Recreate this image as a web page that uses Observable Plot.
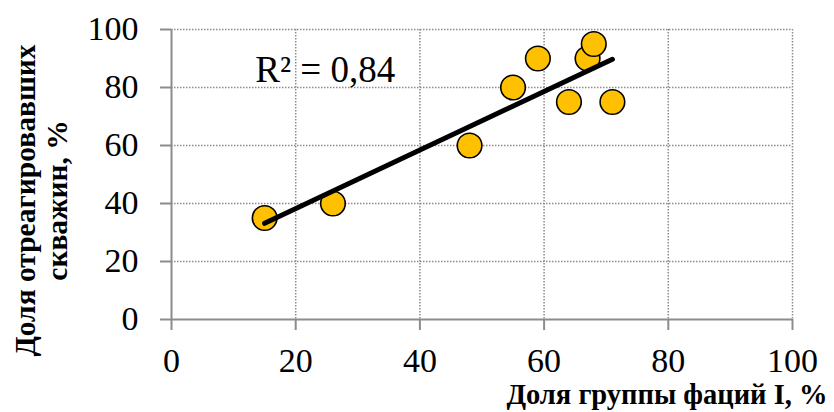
<!DOCTYPE html>
<html><head><meta charset="utf-8">
<script src="https://cdn.jsdelivr.net/npm/d3@7"></script>
<script src="https://cdn.jsdelivr.net/npm/@observablehq/plot@0.6"></script>
<style>
html,body{margin:0;padding:0;background:#fff;}
svg text{font-family:"Liberation Serif","Times New Roman",serif !important;}
</style>
</head><body>
<div id="chart"></div>
<script>
// Data
const faciesShare = [15, 26, 48, 55, 59, 64, 67, 68, 71];     // Доля группы фаций I, %
const reactedShare = [35, 40, 60, 80, 90, 75, 90, 95, 75];    // Доля отреагировавших скважин, %
const ticks = [0, 20, 40, 60, 80, 100];
const r2Label = "R² = 0,84";
const r2Anchor = {x: 13.5, y: 82};
const xTitle = "Доля группы фаций I, %";
const yTitle = "Доля отреагировавших\nскважин, %";

const data = faciesShare.map((x, i) => ({x, y: reactedShare[i]}));
const gridTicks = ticks.filter(t => t > 0);

const serif = "Liberation Serif";
const grey = "#8c8c8c";

const chart = Plot.plot({
  width: 834,
  height: 412,
  marginLeft: 171,
  marginRight: 42,
  marginTop: 29,
  marginBottom: 93,
  style: {fontFamily: serif, fontSize: "33px", color: "#000", background: "#fff"},
  x: {domain: [0, 100], ticks},
  y: {domain: [0, 100], ticks},
  marks: [
    Plot.gridX(gridTicks, {stroke: grey, strokeOpacity: 1, strokeWidth: 1.5, strokeDasharray: "1.5,1.5"}),
    Plot.gridY(gridTicks, {stroke: grey, strokeOpacity: 1, strokeWidth: 1.5, strokeDasharray: "1.5,1.5"}),
    Plot.ruleX([0], {stroke: grey, strokeWidth: 2}),
    Plot.ruleY([0], {stroke: grey, strokeWidth: 2}),
    Plot.axisX(ticks, {tickSize: 11, tickPadding: 17, stroke: grey, strokeWidth: 2, label: null, fontSize: 34, fontFamily: serif, fill: "#000"}),
    Plot.axisY(ticks, {tickSize: 11, tickPadding: 22, stroke: grey, strokeWidth: 2, label: null, fontSize: 34, fontFamily: serif, fill: "#000"}),
    Plot.dot(data, {x: "x", y: "y", r: 12.3, fill: "#FFC000", stroke: "#000", strokeWidth: 1.6}),
    Plot.linearRegressionY(data, {x: "x", y: "y", stroke: "#000", strokeWidth: 5, ci: 0}),
    Plot.text([r2Label], {x: r2Anchor.x, y: r2Anchor.y, text: d => d, textAnchor: "start", lineAnchor: "bottom", fontSize: 37, fontFamily: serif, fill: "#000"}),
    Plot.text([xTitle], {frameAnchor: "bottom-right", text: d => d, textAnchor: "end", lineAnchor: "middle", dx: 35, dy: 75, fontSize: 28.5, fontWeight: "bold", fontFamily: serif, fill: "#000"}),
    Plot.text([yTitle], {frameAnchor: "left", text: d => d, rotate: -90, textAnchor: "middle", lineAnchor: "middle", dx: -131, dy: 26, fontSize: 29.5, fontWeight: "bold", lineHeight: 1.08, fontFamily: serif, fill: "#000"})
  ]
});
document.getElementById("chart").appendChild(chart);
</script>
</body></html>
